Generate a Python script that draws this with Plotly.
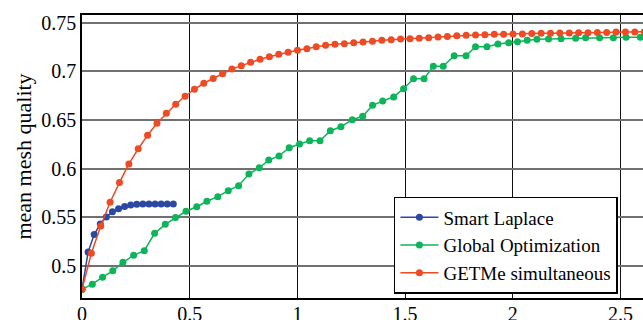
import plotly.graph_objects as go

# ---- data ----
laplace_x = [0.0, 0.0283, 0.0565, 0.0848, 0.113, 0.1413, 0.1696, 0.1978,
             0.2261, 0.2543, 0.2826, 0.3109, 0.3391, 0.3674, 0.3956, 0.4239]
laplace_y = [0.4757, 0.514, 0.532, 0.543, 0.550, 0.5555, 0.5585, 0.561,
             0.5625, 0.5633, 0.5635, 0.5636, 0.5636, 0.5636, 0.5636, 0.5636]

globopt_x = [0.0, 0.0478, 0.0956, 0.143, 0.190, 0.2396, 0.2892, 0.3371, 0.3867, 0.434,
             0.4828, 0.533, 0.580, 0.6305, 0.679, 0.727, 0.775, 0.823, 0.867, 0.9146,
             0.962, 1.010, 1.057, 1.105, 1.153, 1.202, 1.255, 1.303, 1.349, 1.396,
             1.447, 1.493, 1.539, 1.588, 1.631, 1.677, 1.728, 1.783, 1.827, 1.880,
             1.931, 1.981, 2.022, 2.067, 2.112, 2.166, 2.224, 2.292, 2.338, 2.403,
             2.467, 2.526, 2.592]
globopt_y = [0.4757, 0.481, 0.4882, 0.4948, 0.5035, 0.5107, 0.5154, 0.5333, 0.5426, 0.5495,
             0.556, 0.5607, 0.5663, 0.571, 0.5772, 0.5823, 0.5943, 0.6008, 0.6087, 0.6129,
             0.6214, 0.6252, 0.6286, 0.6286, 0.6389, 0.643, 0.6502, 0.6537, 0.665, 0.6694,
             0.6736, 0.6821, 0.6924, 0.6924, 0.7051, 0.7051, 0.716, 0.716, 0.7253, 0.7253,
             0.7281, 0.7294, 0.7305, 0.7319, 0.7329, 0.7332, 0.7335, 0.7339, 0.7346, 0.7346,
             0.7346, 0.735, 0.735]

getme_x = [0.0, 0.0435, 0.087, 0.1305, 0.174, 0.2175, 0.261, 0.3045, 0.348, 0.3915,
           0.435, 0.4785, 0.522, 0.5655, 0.609, 0.6525, 0.696, 0.7395, 0.783, 0.8265,
           0.870, 0.9135, 0.957, 1.0005, 1.044, 1.0875, 1.131, 1.1745, 1.218, 1.2615,
           1.305, 1.3485, 1.392, 1.4355, 1.479, 1.5225, 1.566, 1.6095, 1.653, 1.6965,
           1.740, 1.7835, 1.827, 1.8705, 1.914, 1.9575, 2.001, 2.0445, 2.088, 2.1315,
           2.175, 2.2185, 2.262, 2.3055, 2.349, 2.3925, 2.436, 2.4795, 2.523, 2.5665,
           2.610]
getme_y = [0.4757, 0.5128, 0.5409, 0.5653, 0.5855, 0.6047, 0.6202, 0.6342, 0.6466, 0.6569,
           0.6661, 0.6743, 0.6815, 0.6877, 0.6925, 0.6975, 0.7024, 0.7058, 0.7093, 0.7123,
           0.715, 0.7175, 0.7195, 0.7216, 0.7233, 0.7253, 0.7267, 0.7278, 0.7284, 0.7294,
           0.7301, 0.7309, 0.7319, 0.7325, 0.7332, 0.7335, 0.7339, 0.7346, 0.7353, 0.7358,
           0.7365, 0.737, 0.7374, 0.7377, 0.738, 0.738, 0.7384, 0.7384, 0.7388, 0.739,
           0.739, 0.7394, 0.7394, 0.7397, 0.7397, 0.74, 0.74, 0.7404, 0.7404, 0.7404,
           0.7406]

x_ticks = [0, 0.5, 1, 1.5, 2, 2.5]
x_tick_text = ["0", "0.5", "1", "1.5", "2", "2.5"]
y_ticks = [0.5, 0.55, 0.6, 0.65, 0.7, 0.75]
y_tick_text = ["0.5", "0.55", "0.6", "0.65", "0.7", "0.75"]

FONT = "Liberation Serif, Times New Roman, serif"

fig = go.Figure()
series = [
    ("Smart Laplace", laplace_x, laplace_y, "#2b48a3"),
    ("Global Optimization", globopt_x, globopt_y, "#0db45a"),
    ("GETMe simultaneous", getme_x, getme_y, "#ee4a24"),
]
for name, xs, ys, col in series:
    fig.add_trace(go.Scatter(
        x=xs, y=ys, name=name, mode="lines+markers",
        line=dict(color=col, width=1.5),
        marker=dict(color=col, size=7),
    ))

fig.update_layout(
    width=643, height=320,
    margin=dict(l=82, r=0, t=15, b=22),
    paper_bgcolor="white", plot_bgcolor="white",
    font=dict(family=FONT, color="black"),
    showlegend=True,
    legend=dict(
        x=0.556, y=0.357, xanchor="left", yanchor="top",
        bgcolor="white", bordercolor="black", borderwidth=1.5,
        font=dict(family=FONT, size=19, color="black"),
        tracegroupgap=0, itemwidth=38,
    ),
)
fig.update_xaxes(
    range=[0, 2.6045], tickmode="array", tickvals=x_ticks, ticktext=x_tick_text,
    tickfont=dict(family=FONT, size=20, color="black"),
    showgrid=True, gridcolor="#111111", gridwidth=1,
    showline=True, linecolor="black", linewidth=1.5, mirror=True,
    ticks="", ticklabelstandoff=-3,
    zeroline=False, automargin=False,
)
fig.update_yaxes(
    range=[0.4668, 0.7579], tickmode="array", tickvals=y_ticks, ticktext=y_tick_text,
    tickfont=dict(family=FONT, size=20, color="black"),
    showgrid=True, gridcolor="#707070", gridwidth=2,
    showline=True, linecolor="black", linewidth=1.5, mirror=True,
    ticks="", zeroline=False, automargin=False,
    title=dict(text="mean mesh quality", font=dict(family=FONT, size=22, color="black"), standoff=4),
)

fig.write_html("out.html")
